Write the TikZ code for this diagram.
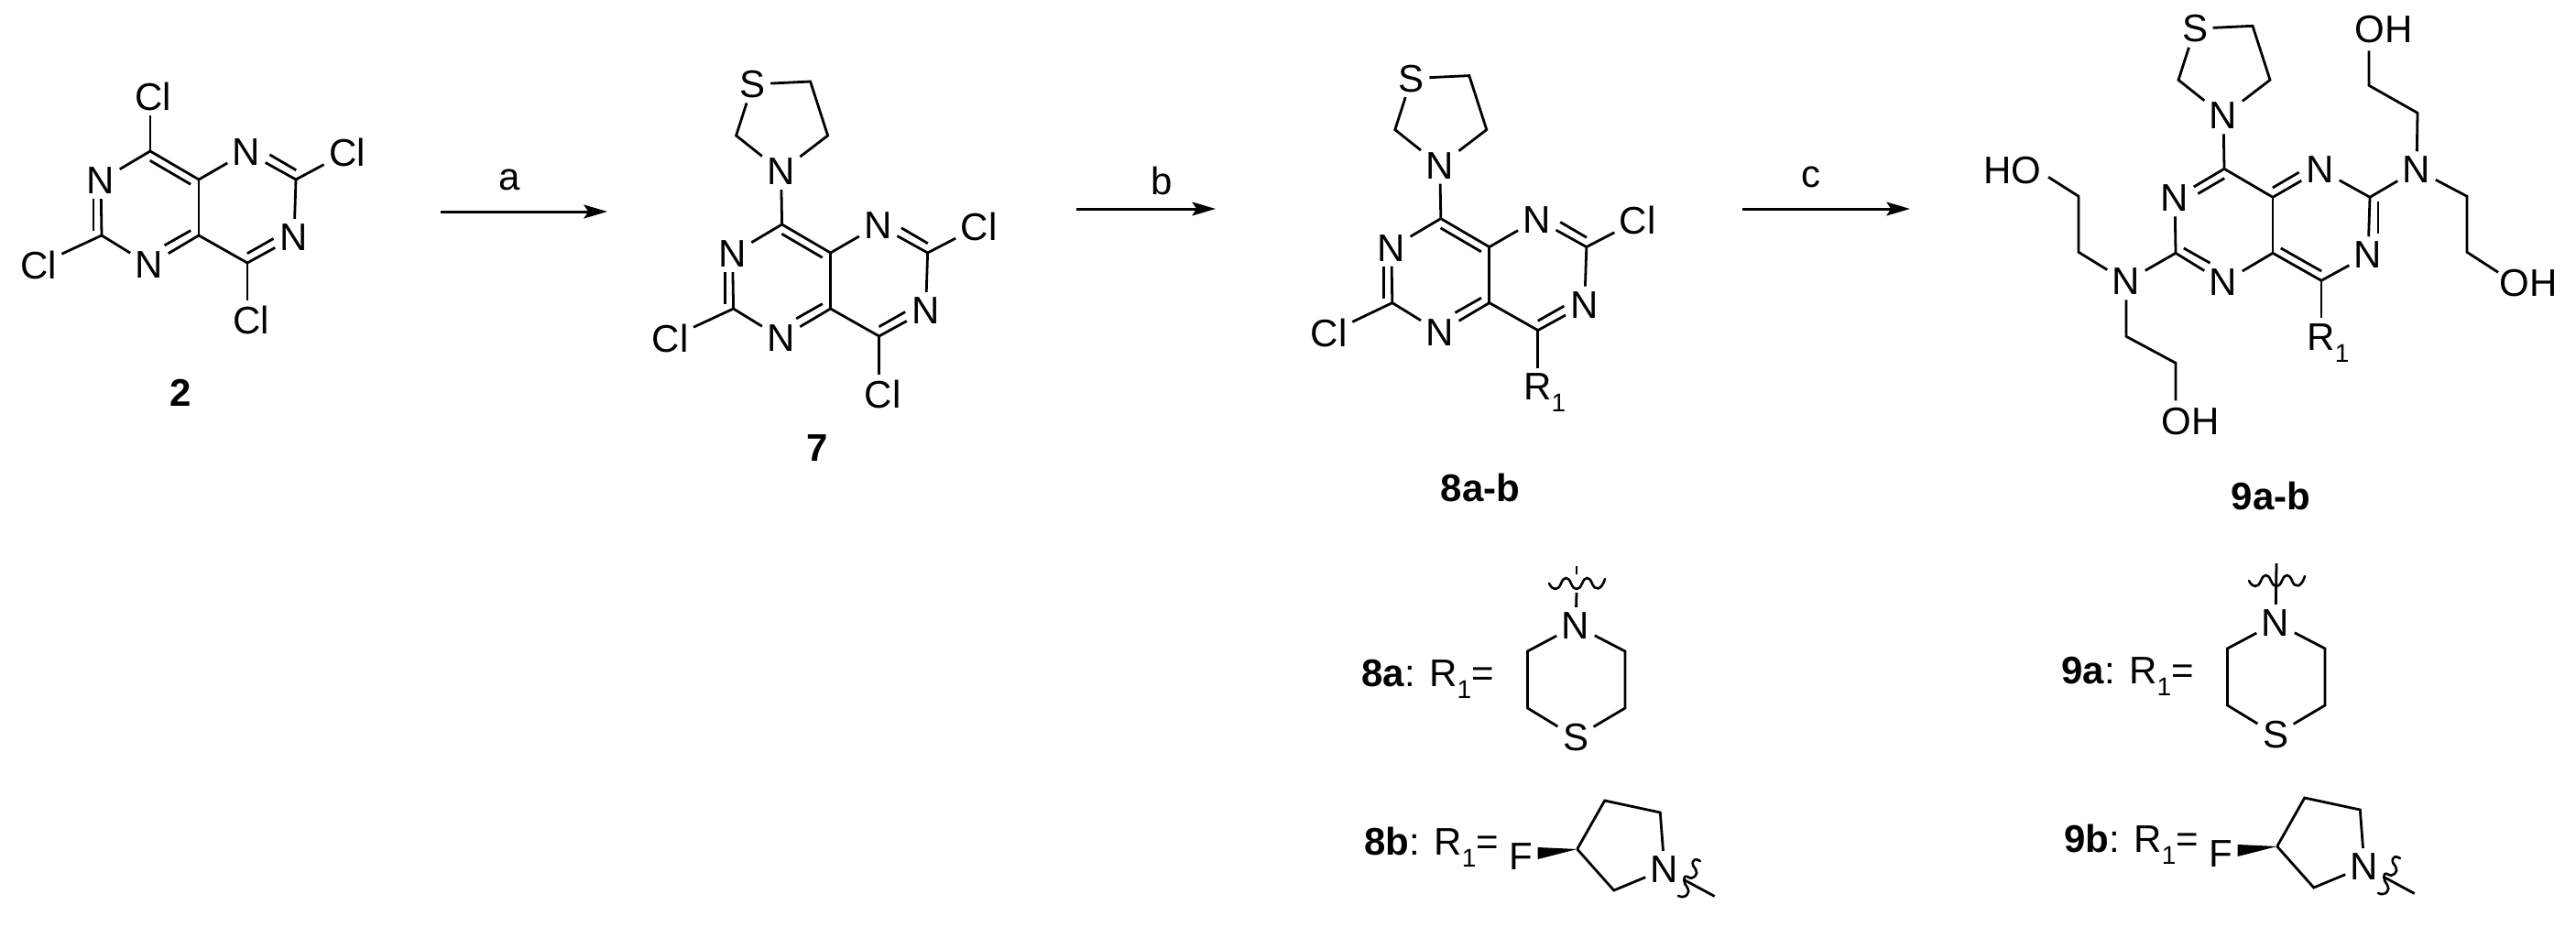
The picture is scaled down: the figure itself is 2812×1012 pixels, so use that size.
\documentclass[tikz,border=0pt]{standalone}
\usepackage{fontspec}
\setmainfont{Liberation Sans}
\usetikzlibrary{calc,arrows.meta}
\newcommand{\Rsub}{R\raisebox{-.32em}{\fontsize{14}{14}\selectfont 1}}
\tikzset{
  bond/.style={line width=1.4pt,line cap=butt,line join=miter},
  atom/.style={inner sep=2.6pt,font=\fontsize{21}{21}\selectfont},
  cid/.style={inner sep=0pt,font=\fontsize{21}{21}\selectfont\bfseries},
  rdef/.style={inner sep=0pt,font=\fontsize{21}{21}\selectfont,anchor=base west},
  rxn/.style={inner sep=0pt,font=\fontsize{21}{21}\selectfont},
  arrowln/.style={line width=1.5pt,-{Stealth[length=12.8pt,width=7.4pt,inset=2.4pt]}},
  wavyln/.style={line width=1.3pt,line cap=round},
  wedgefill/.style={fill=black,draw=none}
}
% inner line of a double bond: #1,#2 vertices, #3 = +/- side, ends pulled by #4,#5 px
\newcommand{\dbl}[5]{\draw[bond] ($(#1)!#4*0.5pt!(#2)!9*0.5pt*#3!90:(#2)$) -- ($(#2)!#5*0.5pt!(#1)!9*0.5pt*#3!-90:(#1)$);}
% common core: #1 prefix; current scope origin is the carbon at top
\newcommand{\core}[1]{
  \coordinate (#1T) at (0,0);
  \coordinate (#1vL) at (-53,31);
  \coordinate (#1BL) at (-53,92);
  \coordinate (#1vB) at (0,122);
  \coordinate (#1A) at (53,92);
  \coordinate (#1E) at (53,31);
  \coordinate (#1vNT) at (106,0);
  \coordinate (#1Rt) at (159,31);
  \coordinate (#1vNR) at (159,92);
  \coordinate (#1BR) at (106,122);
  \node[atom] (#1NL) at (-54,32) {N};
  \node[atom] (#1NB) at (-1,124) {N};
  \node[atom] (#1NT) at (105,1) {N};
  \node[atom] (#1NR) at (157,94) {N};
  \draw[bond] (#1NL) -- (#1T) -- (#1E) -- (#1NT) -- (#1Rt) -- (#1NR) -- (#1BR) -- (#1A) -- (#1NB) -- (#1BL) -- (#1NL);
  \draw[bond] (#1E) -- (#1A);
}
\newcommand{\dblA}[1]{
  \dbl{#1T}{#1E}{-1}{5}{5}
  \dbl{#1vL}{#1BL}{-1}{21}{5}
  \dbl{#1A}{#1vB}{-1}{5}{23}
  \dbl{#1vNT}{#1Rt}{1}{23}{5}
  \dbl{#1BR}{#1vNR}{1}{5}{23}
}
\newcommand{\dblB}[1]{
  \dbl{#1T}{#1vL}{1}{5}{23}
  \dbl{#1E}{#1vNT}{1}{5}{23}
  \dbl{#1Rt}{#1vNR}{1}{5}{21}
  \dbl{#1A}{#1BR}{1}{5}{5}
  \dbl{#1BL}{#1vB}{1}{5}{23}
}
\newcommand{\thia}[1]{
  \node[atom] (#1N) at (-1,-58) {N};
  \node[atom] (#1S) at (-32,-153) {S};
  \coordinate (#1c) at (31,-156);
  \coordinate (#1d) at (50,-97);
  \coordinate (#1e) at (-50,-97);
  \draw[bond] (#1N) -- (#1T);
  \draw[bond] (#1S) -- (#1c) -- (#1d) -- (#1N) -- (#1e) -- (#1S);
}
\newcommand{\thiomorph}[1]{
  \node[atom] (#1N) at (1720,683) {N};
  \node[atom] (#1S) at (1720,805) {S};
  \coordinate (#1a) at (1667.5,711);
  \coordinate (#1b) at (1667.5,773);
  \coordinate (#1c) at (1774,773);
  \coordinate (#1d) at (1774,711);
  \draw[bond] (#1N) -- (#1a) -- (#1b) -- (#1S) -- (#1c) -- (#1d) -- (#1N);
  \draw[wavyln] (1691,637) .. controls (1695,645) and (1701,645) .. (1704,637)
     .. controls (1707,629) and (1712,629) .. (1715,637)
     .. controls (1718,645) and (1724,645) .. (1727,637)
     .. controls (1730,629) and (1735,629) .. (1738,637)
     .. controls (1741,645) and (1748,645) .. (1752,632);
}
\newcommand{\fpyrr}[1]{
  \node[atom] (#1F) at (1660,935) {F};
  \node[atom] (#1N) at (1817,949) {N};
  \coordinate (#1a) at (1721.7,927);
  \coordinate (#1b) at (1751.7,874);
  \coordinate (#1c) at (1812.3,887);
  \coordinate (#1d) at (1761.7,972);
  \coordinate (#1m) at (1871.7,978.5);
  \coordinate (#1w1) at (1678.7,925);
  \coordinate (#1w2) at (1678.7,938);
  \draw[bond] (#1a) -- (#1b) -- (#1c) -- (#1N) -- (#1d) -- (#1a);
  \draw[bond] (#1N) -- (#1m);
  \fill[wedgefill] (#1a) -- (#1w1) -- (#1w2) -- cycle;
  \draw[wavyln] (1856,940) .. controls (1846,934) and (1846,945) .. (1851,949)
     .. controls (1855,954) and (1848,962) .. (1842,957)
     .. controls (1836,955) and (1838,965) .. (1842,969)
     .. controls (1846,974) and (1840,982) .. (1832,978);
}
\begin{document}
\begin{tikzpicture}[x=0.5pt,y=-0.5pt]
\useasboundingbox (0,0) rectangle (2812,1012);

% ---- compound 2
\begin{scope}[shift={(164,165)}]
  \core{p}\dblA{p}
  \node[atom] (pCl1) at (3,-60) {Cl};
  \node[atom] (pCl2) at (215,1) {Cl};
  \node[atom] (pCl3) at (-122,124) {Cl};
  \node[atom] (pCl4) at (110,184) {Cl};
  \draw[bond] (pT) -- (pT|-pCl1.south);
  \draw[bond] (pRt) -- (pCl2);
  \draw[bond] (pBL) -- (pCl3);
  \draw[bond] (pBR) -- (pBR|-pCl4.north);
\end{scope}
\node[cid] (l2) at (197,429) {2};

% ---- compound 7
\begin{scope}[shift={(853.6,245)}]
  \core{q}\dblA{q}\thia{q}
  \node[atom] (qCl2) at (215,2) {Cl};
  \node[atom] (qCl3) at (-122,124) {Cl};
  \node[atom] (qCl4) at (110,185) {Cl};
  \draw[bond] (qRt) -- (qCl2);
  \draw[bond] (qBL) -- (qCl3);
  \draw[bond] (qBR) -- (qBR|-qCl4.north);
\end{scope}
\node[cid] (l7) at (892.5,489) {7};

% ---- compound 8
\begin{scope}[shift={(1572.8,238.6)}]
  \core{r}\dblA{r}\thia{r}
  \node[atom] (rCl2) at (215,2) {Cl};
  \node[atom] (rCl3) at (-122,125) {Cl};
  \node[atom,anchor=west,inner sep=0pt] (rR) at (90,190) {\Rsub};
  \coordinate (rRe) at (106,163);
  \draw[bond] (rRt) -- (rCl2);
  \draw[bond] (rBL) -- (rCl3);
  \draw[bond] (rBR) -- (rRe);
\end{scope}
\node[cid] (l8) at (1616,532) {8a-b};

% ---- compound 9
\begin{scope}[shift={(2428,184.3)}]
  \core{s}\dblB{s}\thia{s}
  \node[atom,anchor=west,inner sep=0pt] (sR) at (90,190) {\Rsub};
  \coordinate (sRe) at (106,163);
  \draw[bond] (sBR) -- (sRe);
  % right amine
  \node[atom] (sNr) at (210,1) {N};
  \coordinate (su1) at (211,-61);
  \coordinate (su2) at (158,-91);
  \coordinate (su3) at (158,-129);
  \node[atom,anchor=west,inner sep=0pt] (sOa) at (142,-152) {OH};
  \coordinate (sr1) at (265,30);
  \coordinate (sr2) at (265,91);
  \coordinate (sr3) at (299,113);
  \node[atom,anchor=west,inner sep=0pt] (sOb) at (300,125) {OH};
  \draw[bond] (sRt) -- (sNr) -- (su1) -- (su2) -- (su3);
  \draw[bond] (sNr) -- (sr1) -- (sr2) -- (sr3);
  % left amine
  \node[atom] (sNl) at (-107,123) {N};
  \coordinate (sl1) at (-159,91);
  \coordinate (sl2) at (-159,30);
  \coordinate (sl3) at (-192,9);
  \node[atom,anchor=east,inner sep=0pt] (sOc) at (-199,2) {HO};
  \coordinate (sd1) at (-107,183);
  \coordinate (sd2) at (-53,212);
  \coordinate (sd3) at (-53,253);
  \node[atom,anchor=west,inner sep=0pt] (sOd) at (-69,276) {OH};
  \draw[bond] (sBL) -- (sNl) -- (sl1) -- (sl2) -- (sl3);
  \draw[bond] (sNl) -- (sd1) -- (sd2) -- (sd3);
\end{scope}
\node[cid] (l9) at (2479,541) {9a-b};

% ---- arrows
\coordinate (a1) at (481,231); \coordinate (a2) at (663,231);
\coordinate (b1) at (1175,228); \coordinate (b2) at (1327,228);
\coordinate (c1) at (1902,228); \coordinate (c2) at (2085,228);
\draw[arrowln] (a1) -- (a2);
\draw[arrowln] (b1) -- (b2);
\draw[arrowln] (c1) -- (c2);
\node[rxn] (la) at (556,196) {a};
\node[rxn] (lb) at (1268,197) {b};
\node[rxn] (lc) at (1977,193) {c};

% ---- R1 definitions
\node[rdef] (t8a) at (1486,749) {{\bfseries 8a}: \Rsub=};
\node[rdef] (t8b) at (1489,933) {{\bfseries 8b}: \Rsub=};
\node[rdef] (t9a) at (2250,746) {{\bfseries 9a}: \Rsub=};
\node[rdef] (t9b) at (2253,930) {{\bfseries 9b}: \Rsub=};
\thiomorph{u}
\coordinate (ut1) at (1721,647); \coordinate (ut2) at (1721,627); \coordinate (ut3) at (1721,618);
\draw[bond] (uN) -- (ut1);
\draw[bond] (ut2) -- (ut3);
\fpyrr{v}
\begin{scope}[shift={(764,-3)}]
  \thiomorph{w}
  \fpyrr{y}
  \coordinate (wt) at (1721,618);
  \draw[bond] (wN) -- (wt);
\end{scope}
\end{tikzpicture}
\end{document}
